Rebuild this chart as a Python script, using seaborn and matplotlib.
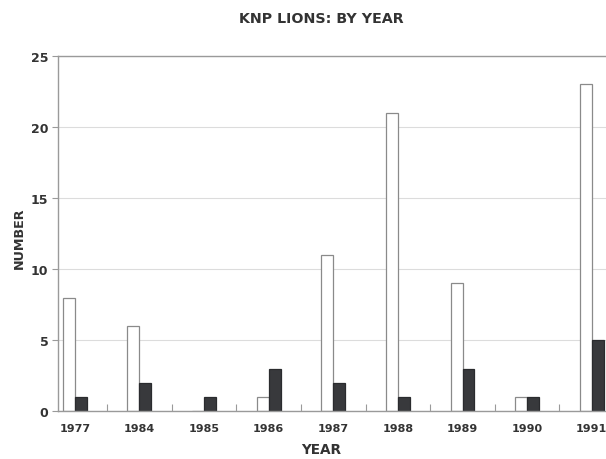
import pandas as pd
import seaborn as sns
import matplotlib.pyplot as plt
from matplotlib.ticker import FixedLocator

years = ['1977', '1984', '1985', '1986', '1987', '1988', '1989', '1990', '1991']
open_bars = [8, 6, 0, 1, 11, 21, 9, 1, 23]
dark_bars = [1, 2, 1, 3, 2, 1, 3, 1, 5]

df = pd.DataFrame({
    'year': years * 2,
    'count': open_bars + dark_bars,
    'series': ['open'] * len(years) + ['dark'] * len(years),
})

sns.set_style('white')
plt.rcParams['font.family'] = ['DejaVu Sans']

fig = plt.figure(figsize=(6.06, 4.6), dpi=100)
ax = fig.add_axes([0.0957, 0.104, 0.9043, 0.772])

sns.barplot(data=df, x='year', y='count', hue='series',
            palette={'open': 'white', 'dark': '#38393c'},
            width=0.37, linewidth=0.9, edgecolor='#8a8a8a', legend=False, ax=ax)

# darker outline on the filled bars
for p in ax.patches[len(years):]:
    p.set_edgecolor('#2a2b2e')

ax.set_ylim(0, 25)
ax.set_xlim(-0.26, 8.22)
ax.set_yticks([0, 5, 10, 15, 20, 25])
ax.yaxis.grid(True, color='#dcdcdc', linewidth=0.8)
ax.set_axisbelow(True)

for side in ['left', 'bottom', 'top']:
    ax.spines[side].set_color('#9a9a9a')
    ax.spines[side].set_linewidth(1.0)
ax.spines['right'].set_visible(False)

ax.tick_params(axis='y', left=True, length=4, color='#9a9a9a', width=0.8,
               labelsize=9, labelcolor='#333333', pad=3)
ax.tick_params(axis='x', bottom=False, labelsize=8, labelcolor='#333333', pad=5)
ax.xaxis.set_minor_locator(FixedLocator([i + 0.5 for i in range(len(years) - 1)]))
ax.tick_params(axis='x', which='minor', bottom=True, direction='in', length=5,
               color='#9a9a9a', width=0.8)
for lab in ax.get_xticklabels() + ax.get_yticklabels():
    lab.set_fontweight('bold')

ax.set_xlabel('YEAR', fontsize=9.8, fontweight='bold', color='#333333')
ax.xaxis.set_label_coords(0.48, -0.088)
ax.set_ylabel('NUMBER', fontsize=9.2, fontweight='bold', color='#333333')
ax.yaxis.set_label_coords(-0.058, 0.49)
fig.text(0.53, 0.958, 'KNP LIONS: BY YEAR', ha='center', va='center',
         fontsize=10.3, fontweight='bold', color='#333333')

fig.savefig('out.png', dpi=100)
